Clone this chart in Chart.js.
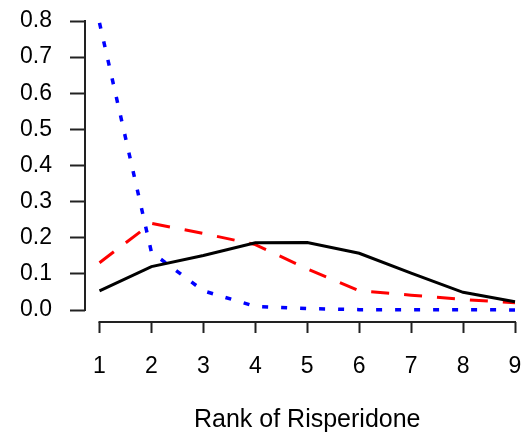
<!DOCTYPE html>
<html>
<head>
<meta charset="utf-8">
<script src="https://cdn.jsdelivr.net/npm/chart.js@4"></script>
<style>
  html, body { margin: 0; padding: 0; background: #ffffff; }
  #wrap { width: 522px; height: 432px; position: relative; }
</style>
</head>
<body>
<div id="wrap"><canvas id="c" width="522" height="432"></canvas></div>
<script>
// ---- data ----
const ranks = [1, 2, 3, 4, 5, 6, 7, 8, 9];
const xTickValues = [1, 2, 3, 4, 5, 6, 7, 8, 9];
const yTickValues = [0.0, 0.1, 0.2, 0.3, 0.4, 0.5, 0.6, 0.7, 0.8];
const solidSeries  = [0.053, 0.120, 0.151, 0.186, 0.187, 0.157, 0.102, 0.049, 0.023];
const dashedSeries = [0.131, 0.240, 0.212, 0.181, 0.114, 0.053, 0.041, 0.029, 0.020];
const dottedSeries = [0.795, 0.160, 0.053, 0.010, 0.004, 0.001, 0.001, 0.001, 0.000];
const xTitle = 'Rank of Risperidone';

const toPoints = arr => ranks.map((r, i) => ({ x: r, y: arr[i] }));

// R-style detached axis lines spanning only the tick range, and axis title centred on it
const rAxes = {
  id: 'rAxes',
  afterDraw(chart) {
    const { ctx, scales: { x, y } } = chart;
    ctx.save();
    ctx.strokeStyle = '#222';
    ctx.lineWidth = 2;
    ctx.lineCap = 'butt';
    const x0 = x.getPixelForValue(xTickValues[0]);
    const x1 = x.getPixelForValue(xTickValues[xTickValues.length - 1]);
    const ay = Math.round(x.top);
    ctx.beginPath();
    ctx.moveTo(x0 - 1, ay);
    ctx.lineTo(x1 + 1, ay);
    ctx.stroke();
    const ax = Math.round(y.right);
    ctx.beginPath();
    ctx.moveTo(ax, y.getPixelForValue(yTickValues[0]) + 1);
    ctx.lineTo(ax, y.getPixelForValue(yTickValues[yTickValues.length - 1]) - 1);
    ctx.stroke();
    ctx.fillStyle = '#000';
    ctx.font = '25px "Liberation Sans", Arial, sans-serif';
    ctx.textAlign = 'center';
    ctx.textBaseline = 'middle';
    ctx.fillText(xTitle, (x0 + x1) / 2, 420);
    ctx.restore();
  }
};

const noPad = s => { s.paddingLeft = 0; s.paddingRight = 0; s.paddingTop = 0; s.paddingBottom = 0; };
const tickFont = { family: '"Liberation Sans", Arial, sans-serif', size: 23 };

new Chart(document.getElementById('c'), {
  type: 'line',
  data: {
    datasets: [
      { label: 'solid', data: toPoints(solidSeries), borderColor: '#000000', borderWidth: 3,
        pointRadius: 0, tension: 0, fill: false, clip: false },
      { label: 'dashed', data: toPoints(dashedSeries), borderColor: '#ff0000', borderWidth: 3,
        borderDash: [18, 15], pointRadius: 0, tension: 0, fill: false, clip: false },
      { label: 'dotted', data: toPoints(dottedSeries), borderColor: '#0000ff', borderWidth: 3.5,
        borderDash: [6, 13], pointRadius: 0, tension: 0, fill: false, clip: false }
    ]
  },
  options: {
    responsive: false,
    animation: false,
    events: [],
    layout: { padding: { top: 21, right: 7, left: 0, bottom: 0 } },
    plugins: { legend: { display: false }, tooltip: { enabled: false } },
    scales: {
      x: {
        type: 'linear',
        min: 0.7208,
        max: 9,
        afterBuildTicks: s => { s.ticks = xTickValues.map(v => ({ value: v })); },
        afterFit: s => { s.height = 110; noPad(s); },
        border: { display: false },
        grid: { display: true, drawOnChartArea: false, drawTicks: true, tickLength: 11,
                tickColor: '#222', tickWidth: 2 },
        ticks: { autoSkip: false, maxRotation: 0, padding: 20, color: '#000', font: tickFont,
                 callback: v => String(v) },
        title: { display: false }
      },
      y: {
        type: 'linear',
        min: -0.0332,
        max: 0.8,
        afterBuildTicks: s => { s.ticks = yTickValues.map(v => ({ value: v })); },
        afterFit: s => { s.width = 85; noPad(s); },
        border: { display: false },
        grid: { display: true, drawOnChartArea: false, drawTicks: true, tickLength: 15,
                tickColor: '#222', tickWidth: 2 },
        ticks: { autoSkip: false, padding: 18, color: '#000', font: tickFont,
                 callback: v => Number(v).toFixed(1) }
      }
    }
  },
  plugins: [rAxes]
});
</script>
</body>
</html>
